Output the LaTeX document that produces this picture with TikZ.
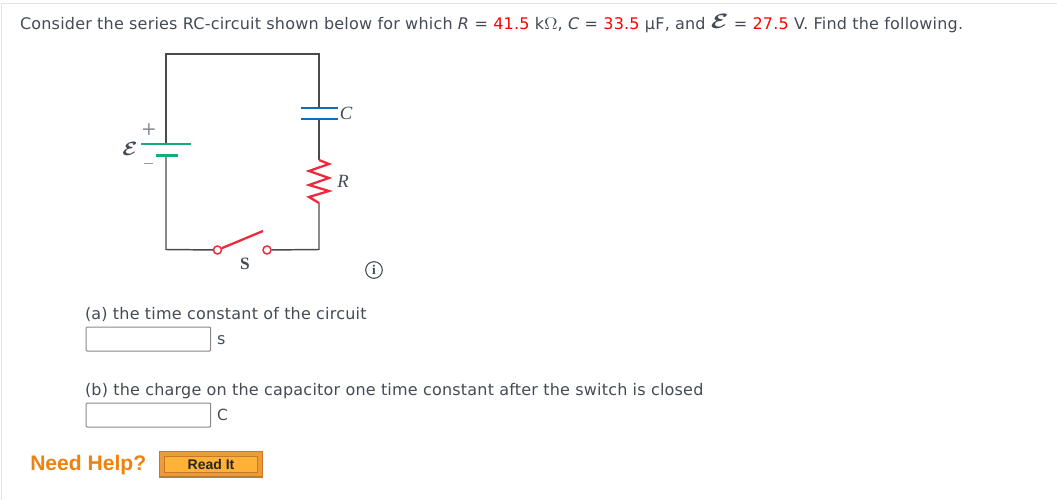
\documentclass[tikz,border=0pt]{standalone}
\usepackage{fontspec}
\setmainfont[LetterSpace=1.3]{DejaVu Sans}
\newfontfamily\labelfont{Liberation Serif}
\newfontfamily\helpfont{Liberation Sans}
\definecolor{txt}{HTML}{444B55}
\definecolor{redval}{HTML}{FF0000}
\definecolor{wire}{HTML}{4A4A4A}
\definecolor{capblue}{HTML}{0F6DB5}
\definecolor{batgreen}{HTML}{12AD7A}
\definecolor{resred}{HTML}{EC2A3C}
\definecolor{helporange}{HTML}{EE8210}
\definecolor{btnfill}{HTML}{FFB236}
\definecolor{btnouter}{HTML}{EE9A38}
\definecolor{btnedge}{HTML}{C47A2A}
\definecolor{inputedge}{HTML}{8A8A8A}
\definecolor{frameedge}{HTML}{E4E4E4}
\newcommand{\emf}{{\mathversion{bold}\raisebox{0.2pt}{\scalebox{1.6}[1.3]{$\mathcal{E}$}}}}
\newcommand{\emfplain}{{\mathversion{bold}\scalebox{1.15}[1]{$\mathcal{E}$}}}
\newcommand{\bigohm}{\raisebox{-0.2pt}{\scalebox{1.2}[1.05]{$\Omega$}}}
\newcommand{\rv}[1]{\textcolor{redval}{#1}}
\tikzset{
 x=0.75pt,y=-0.75pt,
 body/.style={font=\fontsize{12pt}{14pt}\selectfont,text=txt,anchor=base west,inner sep=0pt,outer sep=0pt},
 wirestyle/.style={draw=wire,line width=1.1pt},
 plateblue/.style={draw=capblue,line width=2pt},
 plategreen/.style={draw=batgreen,line width=2pt},
 redline/.style={draw=resred,line width=1.7pt},
 terminal/.style={circle,draw=resred,fill=white,line width=1.1pt,minimum size=6pt,inner sep=0pt},
 serifl/.style={font=\labelfont\itshape\fontsize{14pt}{16pt}\selectfont,text=txt,inner sep=0pt},
 inputbox/.style={draw=inputedge,line width=0.8pt,fill=white,rounded corners=0.8pt,minimum width=93.5pt,minimum height=18pt,inner sep=0pt,anchor=north west},
}
\begin{document}
\begin{tikzpicture}
\useasboundingbox (0,0) rectangle (1057,500);
\fill[white] (0,0) rectangle (1057,500);
\draw[frameedge,line width=0.8pt] (1057,3.5) -- (1.5,3.5) -- (1.5,500);
% question text
\node[body] (title) at (20,29) {Consider the series RC-circuit shown below for which \textit{R} = \rv{41.5} k\bigohm, \textit{C} = \rv{33.5} µF, and \emf{} = \rv{27.5} V. Find the following.};
% circuit
\coordinate (tl) at (166,54);
\coordinate (tr) at (319,54);
\coordinate (bl) at (166,249.5);
\coordinate (br) at (319,249.5);
\coordinate (batp) at (166,144);
\coordinate (batn) at (166,155.5);
\coordinate (capt) at (319,108);
\coordinate (capb) at (319,119);
\coordinate (rest) at (319,160);
\coordinate (resb) at (319,203);
\coordinate (blade) at (263,231);
\node[terminal] (s1) at (217.5,250) {};
\node[terminal] (s2) at (267,250) {};
\draw[wirestyle] (batp) -- (tl) -- (tr) -- (capt);
\draw[wirestyle] (capb) -- (rest);
\draw[wirestyle] (resb) -- (br) -- (s2);
\draw[wirestyle] (s1) -- (bl) -- (batn);
\draw[plateblue] (301,108) -- (338,108) (301,119) -- (338,119);
\draw[plategreen] (141,144) -- (191,144) (156,155.5) -- (178,155.5);
\draw[redline,line join=miter] (rest) -- (329,164) -- (309,171) -- (329,178) -- (309,185) -- (329,191) -- (309,197) -- (resb);
\draw[redline] (s1) -- (blade);
\node[font=\fontsize{14pt}{16pt}\selectfont,text=txt!65,inner sep=0pt] (plus) at (149,130) {+};
\node[text=txt!55,inner sep=0pt] (minus) at (148.5,163.5) {\rule{7pt}{0.7pt}};
\node[inner sep=0pt,text=txt,font=\fontsize{14pt}{16pt}\selectfont] (emfsym) at (130,149) {\emfplain};
\node[serifl] (lc) at (346,113) {C};
\node[serifl] (lr) at (343,181) {R};
\node[font=\labelfont\bfseries\fontsize{13pt}{15pt}\selectfont,text=txt,inner sep=0pt] (ls) at (245,264) {S};
\node[circle,draw=txt,line width=0.8pt,minimum size=12.5pt,inner sep=0pt,font=\labelfont\bfseries\fontsize{10pt}{11pt}\selectfont,text=txt] (info) at (374,270) {i};
% parts
\node[body] (pa) at (85,319) {(a) the time constant of the circuit};
\node[inputbox] (ia) at (85.5,326.5) {};
\node[body] (ua) at (217,344) {s};
\node[body] (pb) at (85,395) {(b) the charge on the capacitor one time constant after the switch is closed};
\node[inputbox] (ib) at (85.5,402.5) {};
\node[body,font=\fontsize{11.5pt}{14pt}\selectfont] (ub) at (217,420) {C};
% help
\node[font=\helpfont\bfseries\fontsize{15.8pt}{18pt}\selectfont,text=helporange,anchor=base west,inner sep=0pt] (help) at (30,470.5) {Need Help?};
\node[draw=btnedge,line width=1pt,fill=btnouter,minimum width=77pt,minimum height=19pt,inner sep=0pt,anchor=north west] (btn) at (159,451) {};
\node[draw=btnedge,line width=0.6pt,fill=btnfill,minimum width=70pt,minimum height=12.5pt,inner sep=0pt,font=\helpfont\bfseries\fontsize{10.5pt}{12pt}\selectfont,text=black!85] (read) at (btn.center) {Read It};
\end{tikzpicture}
\end{document}
